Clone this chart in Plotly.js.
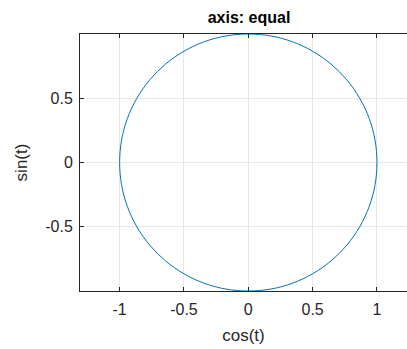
<!DOCTYPE html>
<html><head><meta charset="utf-8">
<script src="https://cdn.plot.ly/plotly-3.0.1.min.js"></script>
<style>html,body{margin:0;padding:0;overflow:hidden;background:#fff}</style>
</head><body><div id="plot"></div>
<script>
// Points (cos(t), sin(t)), every 10 degrees
const cosT = [1, 0.985, 0.940, 0.866, 0.766, 0.643, 0.5, 0.342, 0.174, 0, -0.174, -0.342, -0.5, -0.643, -0.766, -0.866, -0.940, -0.985, -1, -0.985, -0.940, -0.866, -0.766, -0.643, -0.5, -0.342, -0.174, 0, 0.174, 0.342, 0.5, 0.643, 0.766, 0.866, 0.940, 0.985, 1];
const sinT = [0, 0.174, 0.342, 0.5, 0.643, 0.766, 0.866, 0.940, 0.985, 1, 0.985, 0.940, 0.866, 0.766, 0.643, 0.5, 0.342, 0.174, 0, -0.174, -0.342, -0.5, -0.643, -0.766, -0.866, -0.940, -0.985, -1, -0.985, -0.940, -0.866, -0.766, -0.643, -0.5, -0.342, -0.174, 0];
const xTicks = [-1, -0.5, 0, 0.5, 1];
const xTickText = ['-1', '-0.5', '0', '0.5', '1'];
const yTicks = [-0.5, 0, 0.5];
const yTickText = ['-0.5', '0', '0.5'];

const fontFam = 'Liberation Sans, Arial, Helvetica, sans-serif';
const axisCommon = {
  showline: true, linecolor: '#262626', linewidth: 1,
  ticks: 'inside', ticklen: 4, tickcolor: '#262626', tickwidth: 1,
  showgrid: true, gridcolor: '#e6e6e6', gridwidth: 1, zeroline: false,
  tickfont: {family: fontFam, size: 16, color: '#262626'}
};
Plotly.newPlot('plot', [{
  x: cosT, y: sinT, type: 'scatter', mode: 'lines',
  line: {color: '#0072BD', width: 1, shape: 'spline', smoothing: 1}
}], {
  width: 407, height: 349, autosize: false,
  margin: {l: 80, r: 0, t: 34, b: 58},
  paper_bgcolor: '#fff', plot_bgcolor: '#fff',
  showlegend: false,
  title: {text: '<b>axis: equal</b>', font: {family: fontFam, size: 16, color: '#000'}, x: 249 / 407, xanchor: 'center', xref: 'container', y: 1, yref: 'paper', yanchor: 'bottom', pad: {b: 11}},
  xaxis: Object.assign({}, axisCommon, {mirror: 'ticks', range: [-1.308, 1.2335], tickvals: xTicks, ticktext: xTickText, ticklabelstandoff: 4,
    title: {text: 'cos(t)', font: {family: fontFam, size: 17, color: '#262626'}, standoff: 11}}),
  yaxis: Object.assign({}, axisCommon, {mirror: false, range: [-1, 1], tickvals: yTicks, ticktext: yTickText, ticklabelstandoff: 3,
    title: {text: 'sin(t)', font: {family: fontFam, size: 17, color: '#262626'}, standoff: 13}})
}, {displayModeBar: false, staticPlot: true});
</script></body></html>
